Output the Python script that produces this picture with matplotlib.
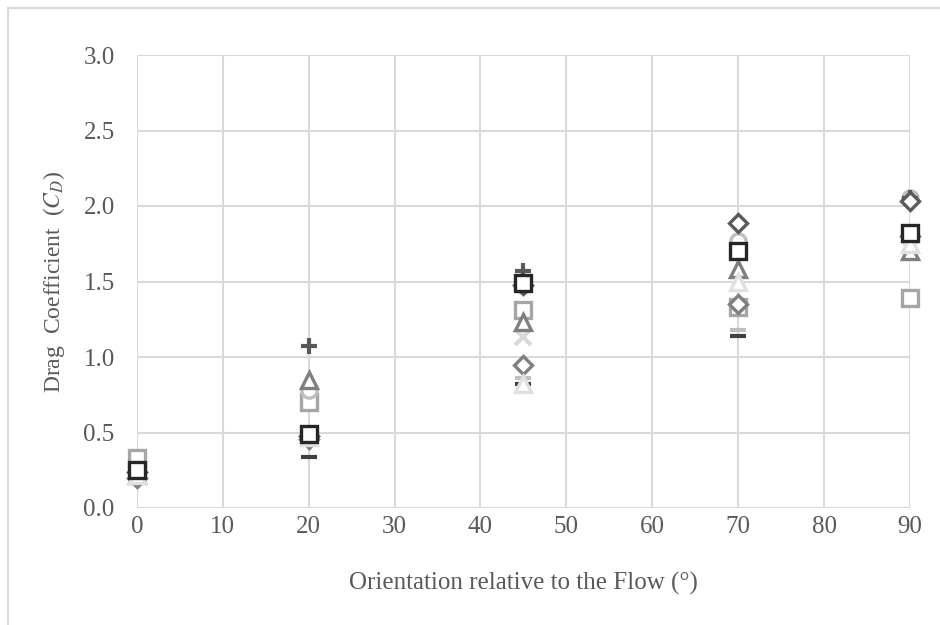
import numpy as np
import matplotlib.pyplot as plt
from matplotlib.patches import Rectangle

plt.rcParams['font.family'] = ['Liberation Serif', 'DejaVu Serif']
plt.rcParams['mathtext.fontset'] = 'stix'

angles = [0, 20, 45, 70, 90]

# drag coefficients per test case
cd_sq_dark = [0.25, 0.49, 1.49, 1.70, 1.82]
cd_sq_light = [0.33, 0.70, 1.31, 1.33, 1.39]
cd_tri_grey = [0.22, 0.85, 1.23, 1.58, 1.70]
cd_tri_light = [0.22, 0.47, 0.82, 1.50, 1.75]
cd_circle = [0.24, 0.78, 1.48, 1.77, 2.05]
cd_dia_grey = [0.20, 0.46, 0.95, 1.35, 1.80]
cd_dia_dark = [0.24, 0.48, 1.48, 1.89, 2.03]
cd_plus = [0.26, 1.07, 1.57, 1.70, 2.05]
cd_dash_dark = [0.26, 0.34, 0.82, 1.14, 1.82]
cd_x = [0.23, 0.47, 1.13, 1.70, 1.80]
cd_dash_light = [0.30, 0.72, 0.86, 1.18, 1.70]

# drawn in this order, last one on top
series = [
    (cd_dash_light, '_', '#bfbfbf'),
    (cd_x, 'x', '#d9d9d9'),
    (cd_dash_dark, '_', '#404040'),
    (cd_sq_light, 's', '#a6a6a6'),
    (cd_circle, 'o', '#bfbfbf'),
    (cd_plus, '+', '#595959'),
    (cd_dia_dark, 'D', '#595959'),
    (cd_dia_grey, 'D', '#7f7f7f'),
    (cd_tri_grey, '^', '#7f7f7f'),
    (cd_tri_light, '^', '#e0e0e0'),
    (cd_sq_dark, 's', '#262626'),
]

fig = plt.figure(figsize=(9.4, 6.25), dpi=100)
ax = fig.add_axes([0.1457, 0.1872, 0.8223, 0.7248])

for vals, mk, col in series:
    if mk in ('+', '_', 'x'):
        ax.plot(angles, vals, linestyle='none', marker=mk, markersize=11,
                markeredgewidth=3, color=col, zorder=3, clip_on=False)
    else:
        size = 9 if mk == 'D' else 11
        ax.plot(angles, vals, linestyle='none', marker=mk, markersize=size,
                markerfacecolor='white', markeredgecolor=col,
                markeredgewidth=2.4, zorder=3, clip_on=False)

ax.set_xlim(0, 90)
ax.set_ylim(0, 3.0)
ax.set_xticks(np.arange(0, 91, 10))
ax.set_yticks(np.arange(0, 3.01, 0.5))
ax.set_yticklabels([f'{v:.1f}' for v in np.arange(0, 3.01, 0.5)])
ax.grid(True, color='#d9d9d9', linewidth=1.5)
ax.set_axisbelow(True)
for s in ax.spines.values():
    s.set_visible(False)
ax.tick_params(length=0, labelsize=18, labelcolor='#595959')
ax.tick_params(axis='x', pad=6)
ax.tick_params(axis='y', pad=16)

ax.set_xlabel('Orientation relative to the Flow (°)', fontsize=18,
              color='#595959', labelpad=24)
ax.set_ylabel(r'Drag  Coefficient  ($C_D$)', fontsize=17,
              color='#595959', labelpad=12)

fig.patches.append(Rectangle((8 / 940, -0.1), 1.2, 1 - 8 / 625 + 0.1,
                             transform=fig.transFigure, fill=False,
                             edgecolor='#d9d9d9', linewidth=1.5))

fig.savefig('out.png', dpi=100)
